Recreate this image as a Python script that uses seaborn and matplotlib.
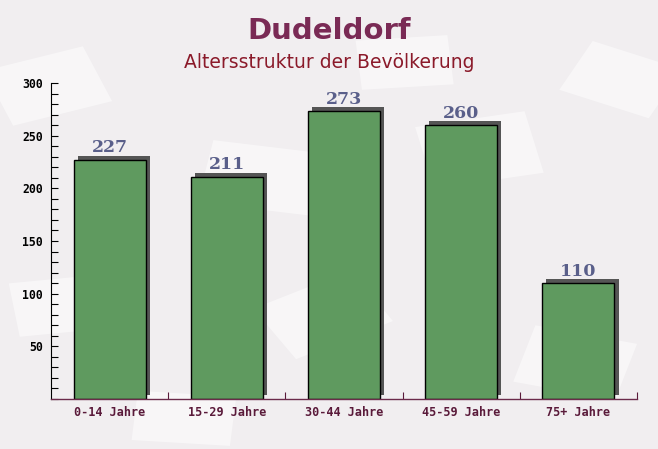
import pandas as pd
import seaborn as sns
import matplotlib
import matplotlib.pyplot as plt
import matplotlib.patheffects as pe
from matplotlib.patches import Rectangle
from matplotlib.ticker import MultipleLocator

matplotlib.use('Agg')

# data
categories = ["0-14 Jahre", "15-29 Jahre", "30-44 Jahre", "45-59 Jahre", "75+ Jahre"]
values = [227, 211, 273, 260, 110]
y_ticks = [50, 100, 150, 200, 250, 300]

df = pd.DataFrame({"gruppe": categories, "anzahl": values})

sns.set_style("white")

fig = plt.figure(figsize=(6.58, 4.49), dpi=100)
fig.patch.set_facecolor("#f1eef0")

# faint "envelope" shapes in the background (behind the axes)
envelopes = [(0.02, 0.72, 0.16, 0.13, 20), (0.30, 0.55, 0.18, 0.14, -10),
             (0.66, 0.58, 0.17, 0.14, 12), (0.85, 0.80, 0.15, 0.12, -25),
             (0.03, 0.25, 0.15, 0.12, 8), (0.45, 0.20, 0.17, 0.13, 30),
             (0.78, 0.15, 0.16, 0.13, -15), (0.20, 0.02, 0.15, 0.11, -5),
             (0.55, 0.80, 0.14, 0.11, 5)]
for x0, y0, w, h, ang in envelopes:
    fig.patches.append(Rectangle((x0, y0), w, h, angle=ang, transform=fig.transFigure,
                                 facecolor="white", alpha=0.5, edgecolor="none", zorder=-1))

ax = fig.add_axes([0.0775, 0.1114, 0.8905, 0.7036])
ax.set_facecolor("none")

sns.barplot(data=df, x="gruppe", y="anzahl", color="#5f9a5f", saturation=1,
            width=0.615, edgecolor="black", linewidth=1.0, ax=ax)

# shadow / 3d look
for bar in ax.patches:
    bar.set_path_effects([
        pe.SimplePatchShadow(offset=(3, 3), shadow_rgbFace="#555555", alpha=1.0),
        pe.Normal(),
    ])

# value labels
for i, v in enumerate(values):
    ax.annotate(str(v), (i, v), xytext=(0, 2.5), textcoords="offset points",
                ha="center", va="bottom", fontsize=12.5, fontweight="bold",
                family="DejaVu Serif", color="#5a5f8a")

ax.set_xlim(-0.5, 4.5)
ax.set_ylim(0, 300)
ax.set_xlabel("")
ax.set_ylabel("")

ax.yaxis.set_minor_locator(MultipleLocator(10))
ax.set_yticks(y_ticks)
ax.set_yticklabels([str(t) for t in y_ticks], family="DejaVu Sans Mono",
                   fontweight="bold", fontsize=8.3, color="black")
ax.tick_params(axis="y", which="both", direction="in", length=5, width=0.8,
               color="black", left=True, pad=6)

ax.set_xticks(range(len(categories)))
ax.set_xticklabels(categories, family="DejaVu Sans Mono", fontweight="bold",
                   fontsize=8.5, color="#5a1a3a")
ax.tick_params(axis="x", which="major", length=0, pad=5)
ax.set_xticks([0.5, 1.5, 2.5, 3.5, 4.5], minor=True)
ax.tick_params(axis="x", which="minor", direction="in", length=5, width=0.8,
               color="#5a1a3a", bottom=True)

for side in ["top", "right"]:
    ax.spines[side].set_visible(False)
ax.spines["left"].set_color("black")
ax.spines["left"].set_linewidth(0.8)
ax.spines["bottom"].set_color("#6b2a4a")
ax.spines["bottom"].set_linewidth(1.0)

fig.text(0.5, 0.932, "Dudeldorf", ha="center", va="center", fontsize=21,
         fontweight="bold", color="#7a2a55")
fig.text(0.5, 0.86, "Altersstruktur der Bevölkerung", ha="center", va="center",
         fontsize=13.5, color="#8b1a2a")

fig.savefig("out.png", dpi=100, facecolor=fig.get_facecolor())
